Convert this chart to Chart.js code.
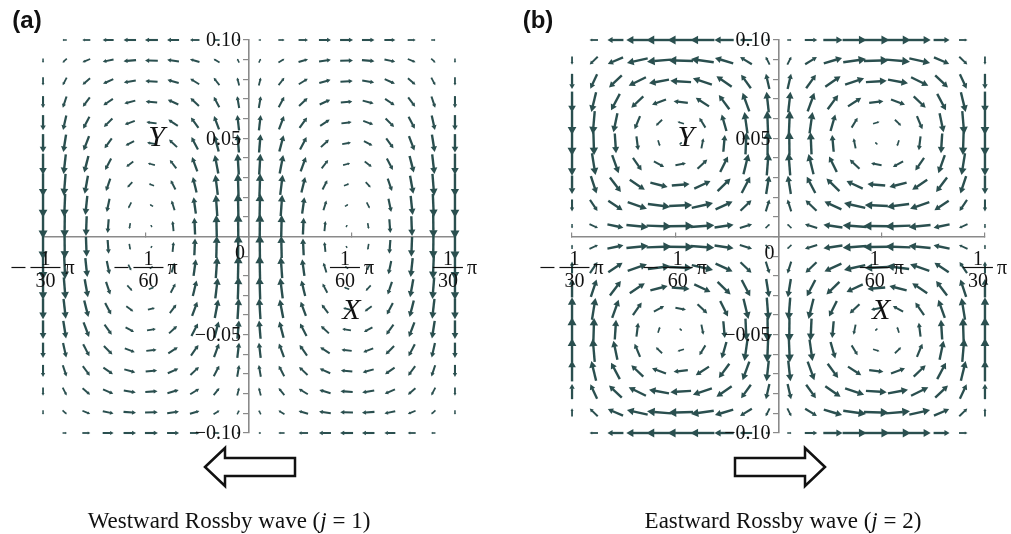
<!DOCTYPE html>
<html>
<head>
<meta charset="utf-8">
<title>Rossby wave velocity fields</title>
<script src="https://cdn.jsdelivr.net/npm/chart.js@4.4.1/dist/chart.umd.min.js"></script>
<style>
  html, body { margin: 0; padding: 0; background: #fff; }
  #wrap { position: relative; width: 1011px; height: 534px; overflow: hidden; }
  #wrap canvas { position: absolute; left: 0; top: 0; }
</style>
</head>
<body>
<div id="wrap">
  <canvas id="west" width="1011" height="534"></canvas>
  <canvas id="east" width="1011" height="534"></canvas>
</div>
<script>
// grid of arrow centres (x in longitude units, y listed top to bottom)
const xGrid = [-0.1047, -0.0937, -0.0827, -0.0716, -0.0606, -0.0496, -0.0386, -0.0276, -0.0165, -0.0055,
                0.0055, 0.0165, 0.0276, 0.0386, 0.0496, 0.0606, 0.0716, 0.0827, 0.0937, 0.1047];
const yGrid = [0.1, 0.0895, 0.0789, 0.0684, 0.0579, 0.0474, 0.0368, 0.0263, 0.0158, 0.0053,
               -0.0053, -0.0158, -0.0263, -0.0368, -0.0474, -0.0579, -0.0684, -0.0789, -0.0895, -0.1];

// axis ticks
const xTickValues = [-Math.PI / 30, -Math.PI / 60, 0, Math.PI / 60, Math.PI / 30];
const xTickSign = ['\u2212', '\u2212', '', '', ''];
const xTickNum = ['1', '1', '', '1', '1'];
const xTickDen = ['30', '60', '', '60', '30'];
const yTickValues = [0.10, 0.05, -0.05, -0.10];
const yTickText = ['0.10', '0.05', '\u22120.05', '\u22120.10'];

// westward wave (j = 1): u, v per grid row, top row first
const uWest = [
  [0,-17,-32,-44,-50,-52,-48,-38,-25,-9, 9,25,38,48,52,50,44,32,17,0],
  [0,-17,-31,-43,-50,-51,-47,-38,-24,-8, 8,24,38,47,51,50,43,31,17,0],
  [0,-16,-30,-41,-48,-49,-45,-36,-23,-8, 8,23,36,45,49,48,41,30,16,0],
  [0,-15,-28,-38,-44,-46,-42,-34,-22,-8, 8,22,34,42,46,44,38,28,15,0],
  [0,-13,-25,-34,-40,-41,-38,-30,-20,-7, 7,20,30,38,41,40,34,25,13,0],
  [0,-11,-22,-29,-34,-35,-32,-26,-17,-6, 6,17,26,32,35,34,29,22,11,0],
  [0,-9,-17,-24,-28,-28,-26,-21,-14,-5, 5,14,21,26,28,28,24,17,9,0],
  [0,-7,-13,-17,-20,-21,-19,-15,-10,-3, 3,10,15,19,21,20,17,13,7,0],
  [0,-4,-8,-11,-12,-13,-12,-9,-6,-2, 2,6,9,12,13,12,11,8,4,0],
  [0,-1,-3,-4,-4,-4,-4,-3,-2,-1, 1,2,3,4,4,4,4,3,1,0],
  [0,1,3,4,4,4,4,3,2,1, -1,-2,-3,-4,-4,-4,-4,-3,-1,0],
  [0,4,8,11,12,13,12,9,6,2, -2,-6,-9,-12,-13,-12,-11,-8,-4,0],
  [0,7,13,17,20,21,19,15,10,3, -3,-10,-15,-19,-21,-20,-17,-13,-7,0],
  [0,9,17,24,28,28,26,21,14,5, -5,-14,-21,-26,-28,-28,-24,-17,-9,0],
  [0,11,22,29,34,35,32,26,17,6, -6,-17,-26,-32,-35,-34,-29,-22,-11,0],
  [0,13,25,34,40,41,38,30,20,7, -7,-20,-30,-38,-41,-40,-34,-25,-13,0],
  [0,15,28,38,44,46,42,34,22,8, -8,-22,-34,-42,-46,-44,-38,-28,-15,0],
  [0,16,30,41,48,49,45,36,23,8, -8,-23,-36,-45,-49,-48,-41,-30,-16,0],
  [0,17,31,43,50,51,47,38,24,8, -8,-24,-38,-47,-51,-50,-43,-31,-17,0],
  [0,17,32,44,50,52,48,38,25,9, -9,-25,-38,-48,-52,-50,-44,-32,-17,0]
];
const vWest = [
  [0,0,0,0,0,0,0,0,0,0, 0,0,0,0,0,0,0,0,0,0],
  [-17,-16,-13,-9,-4,1,7,11,15,16, 16,15,11,7,1,-4,-9,-13,-16,-17],
  [-33,-31,-26,-18,-8,3,13,22,29,32, 32,29,22,13,3,-8,-18,-26,-31,-33],
  [-48,-45,-38,-26,-12,4,19,32,42,47, 47,42,32,19,4,-12,-26,-38,-45,-48],
  [-61,-58,-48,-34,-15,5,25,42,54,61, 61,54,42,25,5,-15,-34,-48,-58,-61],
  [-74,-70,-58,-40,-18,6,30,50,65,73, 73,65,50,30,6,-18,-40,-58,-70,-74],
  [-84,-79,-66,-46,-21,7,34,57,74,83, 83,74,57,34,7,-21,-46,-66,-79,-84],
  [-92,-87,-72,-50,-22,8,37,62,81,90, 90,81,62,37,8,-22,-50,-72,-87,-92],
  [-97,-92,-76,-53,-24,8,39,66,85,96, 96,85,66,39,8,-24,-53,-76,-92,-97],
  [-100,-94,-79,-55,-24,8,40,67,88,98, 98,88,67,40,8,-24,-55,-79,-94,-100],
  [-100,-94,-79,-55,-24,8,40,67,88,98, 98,88,67,40,8,-24,-55,-79,-94,-100],
  [-97,-92,-76,-53,-24,8,39,66,85,96, 96,85,66,39,8,-24,-53,-76,-92,-97],
  [-92,-87,-72,-50,-22,8,37,62,81,90, 90,81,62,37,8,-22,-50,-72,-87,-92],
  [-84,-79,-66,-46,-21,7,34,57,74,83, 83,74,57,34,7,-21,-46,-66,-79,-84],
  [-74,-70,-58,-40,-18,6,30,50,65,73, 73,65,50,30,6,-18,-40,-58,-70,-74],
  [-61,-58,-48,-34,-15,5,25,42,54,61, 61,54,42,25,5,-15,-34,-48,-58,-61],
  [-48,-45,-38,-26,-12,4,19,32,42,47, 47,42,32,19,4,-12,-26,-38,-45,-48],
  [-33,-31,-26,-18,-8,3,13,22,29,32, 32,29,22,13,3,-8,-18,-26,-31,-33],
  [-17,-16,-13,-9,-4,1,7,11,15,16, 16,15,11,7,1,-4,-9,-13,-16,-17],
  [0,0,0,0,0,0,0,0,0,0, 0,0,0,0,0,0,0,0,0,0]
];

// eastward wave (j = 2): four cells
const uEast = [
  [0,-34,-64,-88,-102,-105,-96,-77,-50,-17, 17,50,77,96,105,102,88,64,34,0],
  [0,-32,-61,-83,-96,-99,-91,-73,-47,-16, 16,47,73,91,99,96,83,61,32,0],
  [0,-27,-51,-69,-80,-83,-76,-61,-39,-14, 14,39,61,76,83,80,69,51,27,0],
  [0,-19,-35,-48,-56,-57,-53,-42,-27,-9, 9,27,42,53,57,56,48,35,19,0],
  [0,-8,-16,-22,-25,-26,-24,-19,-12,-4, 4,12,19,24,26,25,22,16,8,0],
  [0,3,5,7,8,9,8,6,4,1, -1,-4,-6,-8,-9,-8,-7,-5,-3,0],
  [0,14,26,35,41,42,39,31,20,7, -7,-20,-31,-39,-42,-41,-35,-26,-14,0],
  [0,23,44,60,69,71,65,52,34,12, -12,-34,-52,-65,-71,-69,-60,-44,-23,0],
  [0,30,57,77,89,92,85,68,44,15, -15,-44,-68,-85,-92,-89,-77,-57,-30,0],
  [0,34,64,87,100,103,95,76,49,17, -17,-49,-76,-95,-103,-100,-87,-64,-34,0],
  [0,34,64,87,100,103,95,76,49,17, -17,-49,-76,-95,-103,-100,-87,-64,-34,0],
  [0,30,57,77,89,92,85,68,44,15, -15,-44,-68,-85,-92,-89,-77,-57,-30,0],
  [0,23,44,60,69,71,65,52,34,12, -12,-34,-52,-65,-71,-69,-60,-44,-23,0],
  [0,14,26,35,41,42,39,31,20,7, -7,-20,-31,-39,-42,-41,-35,-26,-14,0],
  [0,3,5,7,8,9,8,6,4,1, -1,-4,-6,-8,-9,-8,-7,-5,-3,0],
  [0,-8,-16,-22,-25,-26,-24,-19,-12,-4, 4,12,19,24,26,25,22,16,8,0],
  [0,-19,-35,-48,-56,-57,-53,-42,-27,-9, 9,27,42,53,57,56,48,35,19,0],
  [0,-27,-51,-69,-80,-83,-76,-61,-39,-14, 14,39,61,76,83,80,69,51,27,0],
  [0,-32,-61,-83,-96,-99,-91,-73,-47,-16, 16,47,73,91,99,96,83,61,32,0],
  [0,-34,-64,-88,-102,-105,-96,-77,-50,-17, 17,50,77,96,105,102,88,64,34,0]
];
const vEast = [
  [0,0,0,0,0,0,0,0,0,0, 0,0,0,0,0,0,0,0,0,0],
  [-33,-31,-26,-18,-8,3,13,22,29,32, 32,29,22,13,3,-8,-18,-26,-31,-33],
  [-61,-58,-48,-34,-15,5,25,42,54,61, 61,54,42,25,5,-15,-34,-48,-58,-61],
  [-84,-79,-66,-46,-21,7,34,57,74,83, 83,74,57,34,7,-21,-46,-66,-79,-84],
  [-97,-92,-76,-53,-24,8,39,66,85,96, 96,85,66,39,8,-24,-53,-76,-92,-97],
  [-100,-94,-79,-55,-24,8,40,67,88,98, 98,88,67,40,8,-24,-55,-79,-94,-100],
  [-92,-87,-72,-50,-22,8,37,62,81,90, 90,81,62,37,8,-22,-50,-72,-87,-92],
  [-74,-70,-58,-40,-18,6,30,50,65,73, 73,65,50,30,6,-18,-40,-58,-70,-74],
  [-48,-45,-38,-26,-12,4,19,32,42,47, 47,42,32,19,4,-12,-26,-38,-45,-48],
  [-17,-16,-13,-9,-4,1,7,11,15,16, 16,15,11,7,1,-4,-9,-13,-16,-17],
  [17,16,13,9,4,-1,-7,-11,-15,-16, -16,-15,-11,-7,-1,4,9,13,16,17],
  [48,45,38,26,12,-4,-19,-32,-42,-47, -47,-42,-32,-19,-4,12,26,38,45,48],
  [74,70,58,40,18,-6,-30,-50,-65,-73, -73,-65,-50,-30,-6,18,40,58,70,74],
  [92,87,72,50,22,-8,-37,-62,-81,-90, -90,-81,-62,-37,-8,22,50,72,87,92],
  [100,94,79,55,24,-8,-40,-67,-88,-98, -98,-88,-67,-40,-8,24,55,79,94,100],
  [97,92,76,53,24,-8,-39,-66,-85,-96, -96,-85,-66,-39,-8,24,53,76,92,97],
  [84,79,66,46,21,-7,-34,-57,-74,-83, -83,-74,-57,-34,-7,21,46,66,79,84],
  [61,58,48,34,15,-5,-25,-42,-54,-61, -61,-54,-42,-25,-5,15,34,48,58,61],
  [33,31,26,18,8,-3,-13,-22,-29,-32, -32,-29,-22,-13,-3,8,18,26,31,33],
  [0,0,0,0,0,0,0,0,0,0, 0,0,0,0,0,0,0,0,0,0]
];

const SERIF = '"Liberation Serif", "Times New Roman", serif';
const AXIS_GREY = '#8a8a8a';
const ARROW_COL = '#2a4f4f';

function gridPoints(u, v) {
  const pts = [];
  yGrid.forEach((y, r) => {
    xGrid.forEach((x, c) => pts.push({ x: x, y: y, u: u[r][c], v: v[r][c] }));
  });
  return pts;
}

// draws each vector centred on its grid point
const arrowPlugin = {
  id: 'arrows',
  afterDatasetsDraw(chart, args, opts) {
    const ctx = chart.ctx;
    const meta = chart.getDatasetMeta(0);
    const data = chart.data.datasets[0].data;
    ctx.save();
    ctx.strokeStyle = ARROW_COL;
    ctx.fillStyle = ARROW_COL;
    ctx.lineCap = 'butt';
    meta.data.forEach((pt, i) => {
      const d = data[i];
      const dx = d.u * opts.scale;
      const dy = -d.v * opts.scale;
      const len = Math.hypot(dx, dy);
      if (len < 0.2) return;
      const ux = dx / len, uy = dy / len;
      const x0 = pt.x - dx / 2, y0 = pt.y - dy / 2;
      const x1 = pt.x + dx / 2, y1 = pt.y + dy / 2;
      const hl = Math.min(len * 0.32, 8);
      const hw = Math.max(Math.min(len * 0.18, 4.5), 1.2);
      const bx = x1 - ux * hl, by = y1 - uy * hl;
      ctx.lineWidth = Math.min(2.4, 1.2 + len * 0.07);
      ctx.beginPath();
      ctx.moveTo(x0, y0);
      ctx.lineTo(bx + ux * 0.5, by + uy * 0.5);
      ctx.stroke();
      ctx.beginPath();
      ctx.moveTo(x1, y1);
      ctx.lineTo(bx - uy * hw, by + ux * hw);
      ctx.lineTo(bx + uy * hw, by - ux * hw);
      ctx.closePath();
      ctx.fill();
    });
    ctx.restore();
  }
};

// tick labels, axis letters, panel tag, wave direction and caption
const decorPlugin = {
  id: 'decor',
  afterDraw(chart, args, o) {
    const ctx = chart.ctx;
    const xs = chart.scales.x, ys = chart.scales.y;
    const ox = xs.getPixelForValue(0), oy = ys.getPixelForValue(0);
    ctx.save();
    ctx.fillStyle = '#111';
    ctx.strokeStyle = '#111';

    // y tick labels
    ctx.font = '20px ' + SERIF;
    ctx.textAlign = 'right';
    ctx.textBaseline = 'middle';
    yTickValues.forEach((v, k) => {
      ctx.fillText(yTickText[k], ox - 8, ys.getPixelForValue(v) + 1);
    });
    ctx.fillText('0', ox - 4, oy + 17);

    // x tick labels as fractions of pi
    xTickValues.forEach((v, k) => {
      if (!xTickDen[k]) return;
      const cx = xs.getPixelForValue(v);
      const barY = oy + 31;
      const signW = xTickSign[k] ? 19 : 0;
      const barW = 30;
      const piW = ctx.measureText('\u03c0').width;
      const left = cx - (signW + barW + 4 + piW) / 2;
      const barL = left + signW;
      ctx.lineWidth = 1.2;
      if (signW) {
        ctx.beginPath();
        ctx.moveTo(left, barY);
        ctx.lineTo(left + 14, barY);
        ctx.stroke();
      }
      ctx.beginPath();
      ctx.moveTo(barL, barY);
      ctx.lineTo(barL + barW, barY);
      ctx.stroke();
      ctx.textAlign = 'center';
      ctx.textBaseline = 'alphabetic';
      ctx.fillText(xTickNum[k], barL + barW / 2, barY - 3);
      ctx.fillText(xTickDen[k], barL + barW / 2, barY + 19);
      ctx.textAlign = 'left';
      ctx.textBaseline = 'middle';
      ctx.fillText('\u03c0', barL + barW + 4, barY + 1);
    });

    // axis letters
    ctx.font = 'italic 30px ' + SERIF;
    ctx.textAlign = 'center';
    ctx.textBaseline = 'middle';
    ctx.fillText('Y', xs.getPixelForValue(o.yLetter[0]), ys.getPixelForValue(o.yLetter[1]));
    ctx.fillText('X', xs.getPixelForValue(o.xLetter[0]), ys.getPixelForValue(o.xLetter[1]));

    // panel tag
    ctx.font = 'bold 24px "Liberation Sans", Arial, sans-serif';
    ctx.fillText(o.tag, o.tagX, 21);

    // hollow direction arrow
    const s = o.dir;
    const ax = o.arrowX, ay = 467;
    ctx.lineWidth = 2.5;
    ctx.lineJoin = 'miter';
    ctx.fillStyle = '#fff';
    ctx.beginPath();
    ctx.moveTo(ax + s * 45, ay);
    ctx.lineTo(ax + s * 25, ay - 19);
    ctx.lineTo(ax + s * 25, ay - 9);
    ctx.lineTo(ax - s * 45, ay - 9);
    ctx.lineTo(ax - s * 45, ay + 9);
    ctx.lineTo(ax + s * 25, ay + 9);
    ctx.lineTo(ax + s * 25, ay + 19);
    ctx.closePath();
    ctx.fill();
    ctx.stroke();

    // caption
    ctx.fillStyle = '#111';
    ctx.textAlign = 'left';
    ctx.textBaseline = 'alphabetic';
    const size = '23px ';
    const parts = [[o.caption + ' (', false], ['j', true], [' = ' + o.j + ')', false]];
    let w = 0;
    parts.forEach(p => {
      ctx.font = (p[1] ? 'italic ' : '') + size + SERIF;
      w += ctx.measureText(p[0]).width;
    });
    let tx = o.captionX - w / 2;
    parts.forEach(p => {
      ctx.font = (p[1] ? 'italic ' : '') + size + SERIF;
      ctx.fillText(p[0], tx, 528);
      tx += ctx.measureText(p[0]).width;
    });
    ctx.restore();
  }
};

function makePanel(id, u, v, pad, decor) {
  const axisLine = { display: true, color: AXIS_GREY, width: 1.6 };
  return new Chart(document.getElementById(id), {
    type: 'scatter',
    data: {
      datasets: [{ data: gridPoints(u, v), pointRadius: 0, pointHoverRadius: 0 }]
    },
    options: {
      responsive: false,
      animation: false,
      devicePixelRatio: 1,
      events: [],
      layout: { padding: pad, autoPadding: false },
      plugins: {
        legend: { display: false },
        tooltip: { enabled: false },
        arrows: { scale: 0.25 },
        decor: decor
      },
      scales: {
        x: {
          type: 'linear',
          min: xTickValues[0],
          max: xTickValues[xTickValues.length - 1],
          position: { y: 0 },
          afterBuildTicks: scale => { scale.ticks = xTickValues.map(val => ({ value: val })); },
          ticks: { display: false },
          grid: { display: true, drawOnChartArea: false, drawTicks: true, tickLength: -5, color: AXIS_GREY, lineWidth: 1.2 },
          border: axisLine
        },
        y: {
          type: 'linear',
          min: -0.1,
          max: 0.1,
          position: { x: 0 },
          ticks: { display: false, stepSize: 0.01 },
          grid: { display: true, drawOnChartArea: false, drawTicks: true, tickLength: 5, color: AXIS_GREY, lineWidth: 1.2 },
          border: axisLine
        }
      }
    },
    plugins: [arrowPlugin, decorPlugin]
  });
}

makePanel('west', uWest, vWest,
  { left: 43, right: 556, top: 40, bottom: 101 },
  { tag: '(a)', tagX: 27, yLetter: [-0.047, 0.05], xLetter: [0.052, -0.038],
    dir: -1, arrowX: 250, caption: 'Westward Rossby wave', j: 1, captionX: 229 });

makePanel('east', uEast, vEast,
  { left: 572, right: 26, top: 40, bottom: 101 },
  { tag: '(b)', tagX: 538, yLetter: [-0.047, 0.05], xLetter: [0.052, -0.038],
    dir: 1, arrowX: 780, caption: 'Eastward Rossby wave', j: 2, captionX: 783 });
</script>
</body>
</html>
